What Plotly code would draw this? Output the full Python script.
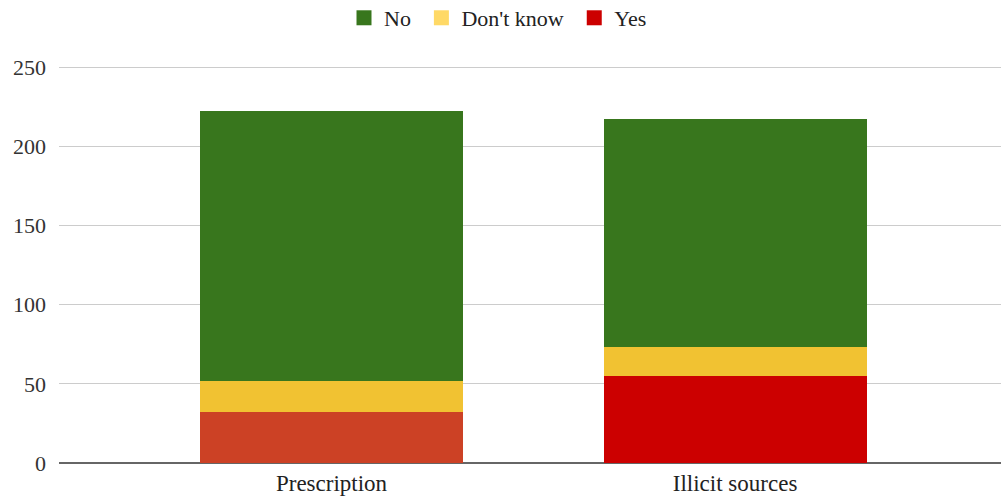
import plotly.graph_objects as go

categories = ["Prescription", "Illicit sources"]
yes_vals = [32, 55]
dontknow_vals = [20, 18]
no_vals = [170, 144]

yes_bar_colors = ["#cc4125", "#cc0000"]
legend_names = ["No", "Don't know", "Yes"]
legend_colors = ["#38761d", "#ffd966", "#cc0000"]
FONT = "Georgia, 'Liberation Serif', 'DejaVu Serif', serif"

fig = go.Figure()
fig.add_trace(go.Bar(x=categories, y=yes_vals, name="Yes", marker=dict(color=yes_bar_colors, line=dict(width=0)),
                     showlegend=False, width=0.652))
fig.add_trace(go.Bar(x=categories, y=dontknow_vals, name="Don't know", marker=dict(color="#f1c232", line=dict(width=0)),
                     showlegend=False, width=0.652))
fig.add_trace(go.Bar(x=categories, y=no_vals, name="No", marker=dict(color="#38761d", line=dict(width=0)),
                     showlegend=False, width=0.652))

# legend entries
for rank, (name, col) in enumerate(zip(legend_names, legend_colors)):
    fig.add_trace(go.Scatter(x=[None], y=[None], name=name + "\u00a0", mode="markers",
                             marker=dict(color=col, symbol="square", size=15),
                             legendrank=rank + 1, showlegend=True))

fig.update_layout(
    barmode="stack",
    width=1001, height=502,
    margin=dict(l=59, r=0, t=40, b=39, autoexpand=False),
    paper_bgcolor="white", plot_bgcolor="white",
    font=dict(family=FONT, size=22, color="#222222"),
    legend=dict(orientation="h", x=0.5, xanchor="center", xref="container", y=1.1017, yanchor="top",
                yref="paper", font=dict(size=22), itemwidth=30, traceorder="normal"),
)
fig.update_xaxes(range=[-0.6753, 1.659], showgrid=False, ticks="", tickfont=dict(size=23),
                 ticklabelstandoff=4, automargin=False)
fig.update_yaxes(range=[0, 267.05], tickvals=[0, 50, 100, 150, 200, 250], showgrid=True,
                 gridcolor="#cccccc", gridwidth=1, zeroline=True, zerolinecolor="#666666", zerolinewidth=2,
                 ticks="", ticklabelstandoff=12, tickfont=dict(size=22, color="#333333"), automargin=False)

fig.write_html("out.html")
